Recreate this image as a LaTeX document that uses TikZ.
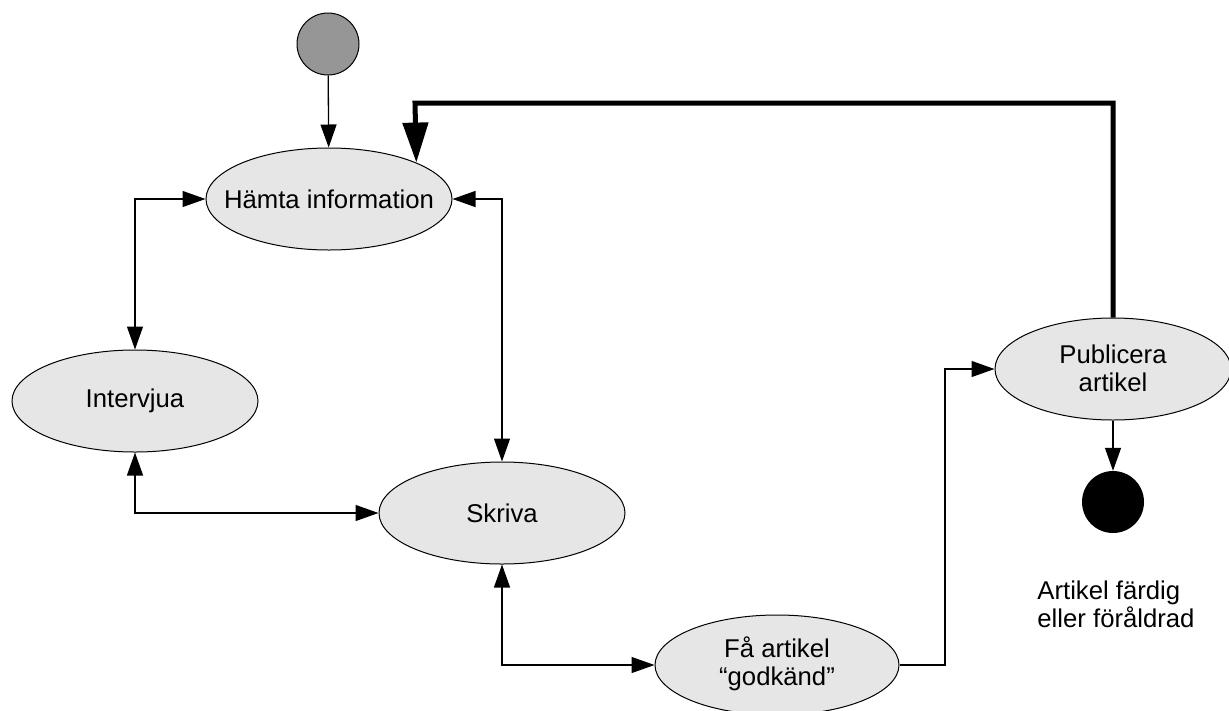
\documentclass[tikz,border=0pt]{standalone}
\usepackage{fontspec}
\setmainfont{Liberation Sans}
\usetikzlibrary{arrows.meta,shapes.geometric}
\definecolor{stfill}{RGB}{230,230,230}
\definecolor{startgray}{RGB}{150,150,150}
\begin{document}
\begin{tikzpicture}[x=1pt,y=-1pt,
  state/.style={ellipse,draw=black,line width=1pt,fill=stfill,inner sep=0pt},
  txt/.style={font=\fontsize{25.7}{28}\selectfont,align=center,inner sep=0pt},
  conn/.style={line width=1.3pt,draw=black},
  tip/.tip={Triangle[length=23pt,width=16pt]},
  arr/.style={conn,-tip},
  darr/.style={conn,tip-tip},
  thickarr/.style={line width=5pt,draw=black,-{Triangle[length=40pt,width=25pt]}},
  startnode/.style={circle,draw=black,line width=1pt,fill=startgray,minimum size=62pt,inner sep=0pt},
  endnode/.style={circle,fill=black,minimum size=62pt,inner sep=0pt}
]
\useasboundingbox (0,0) rectangle (1229,710);
\node[startnode] (s) at (328,44) {};
\node[state,minimum width=246pt,minimum height=102pt] (h) at (329,199) {};
\node[txt] (ht) at (h) {Hämta information};
\node[state,minimum width=246pt,minimum height=102pt] (i) at (135,401) {};
\node[txt] (it) at (i) {Intervjua};
\node[state,minimum width=246pt,minimum height=102pt] (sk) at (502,513) {};
\node[txt] (skt) at (sk) {Skriva};
\node[state,minimum width=244pt,minimum height=100pt] (f) at (777,665) {};
\node[txt] (ft) at (777,664) {Få artikel\\“godkänd”};
\node[state,minimum width=236pt,minimum height=102pt] (p) at (1113,369) {};
\node[txt] (pt) at (1113,368) {Publicera\\artikel};
\node[endnode] (e) at (1113,502) {};
\node[txt,align=left] (et) at (1116,604) {Artikel färdig\\eller föråldrad};
\coordinate (tk) at (415,103);
\coordinate (fc) at (945,665);

\draw[arr] (s) -- (h);
\draw[darr] (i.north) |- (h.west);
\draw[darr] (h.east) -| (sk.north);
\draw[darr] (i.south) |- (sk.west);
\draw[darr] (sk.south) |- (f.west);
\draw[arr] (f.east) -- (fc) |- (p.west);
\draw[thickarr] (p.north) |- (tk) -- (h.north east);
\draw[arr] (p.south) -- (e);
\end{tikzpicture}
\end{document}
